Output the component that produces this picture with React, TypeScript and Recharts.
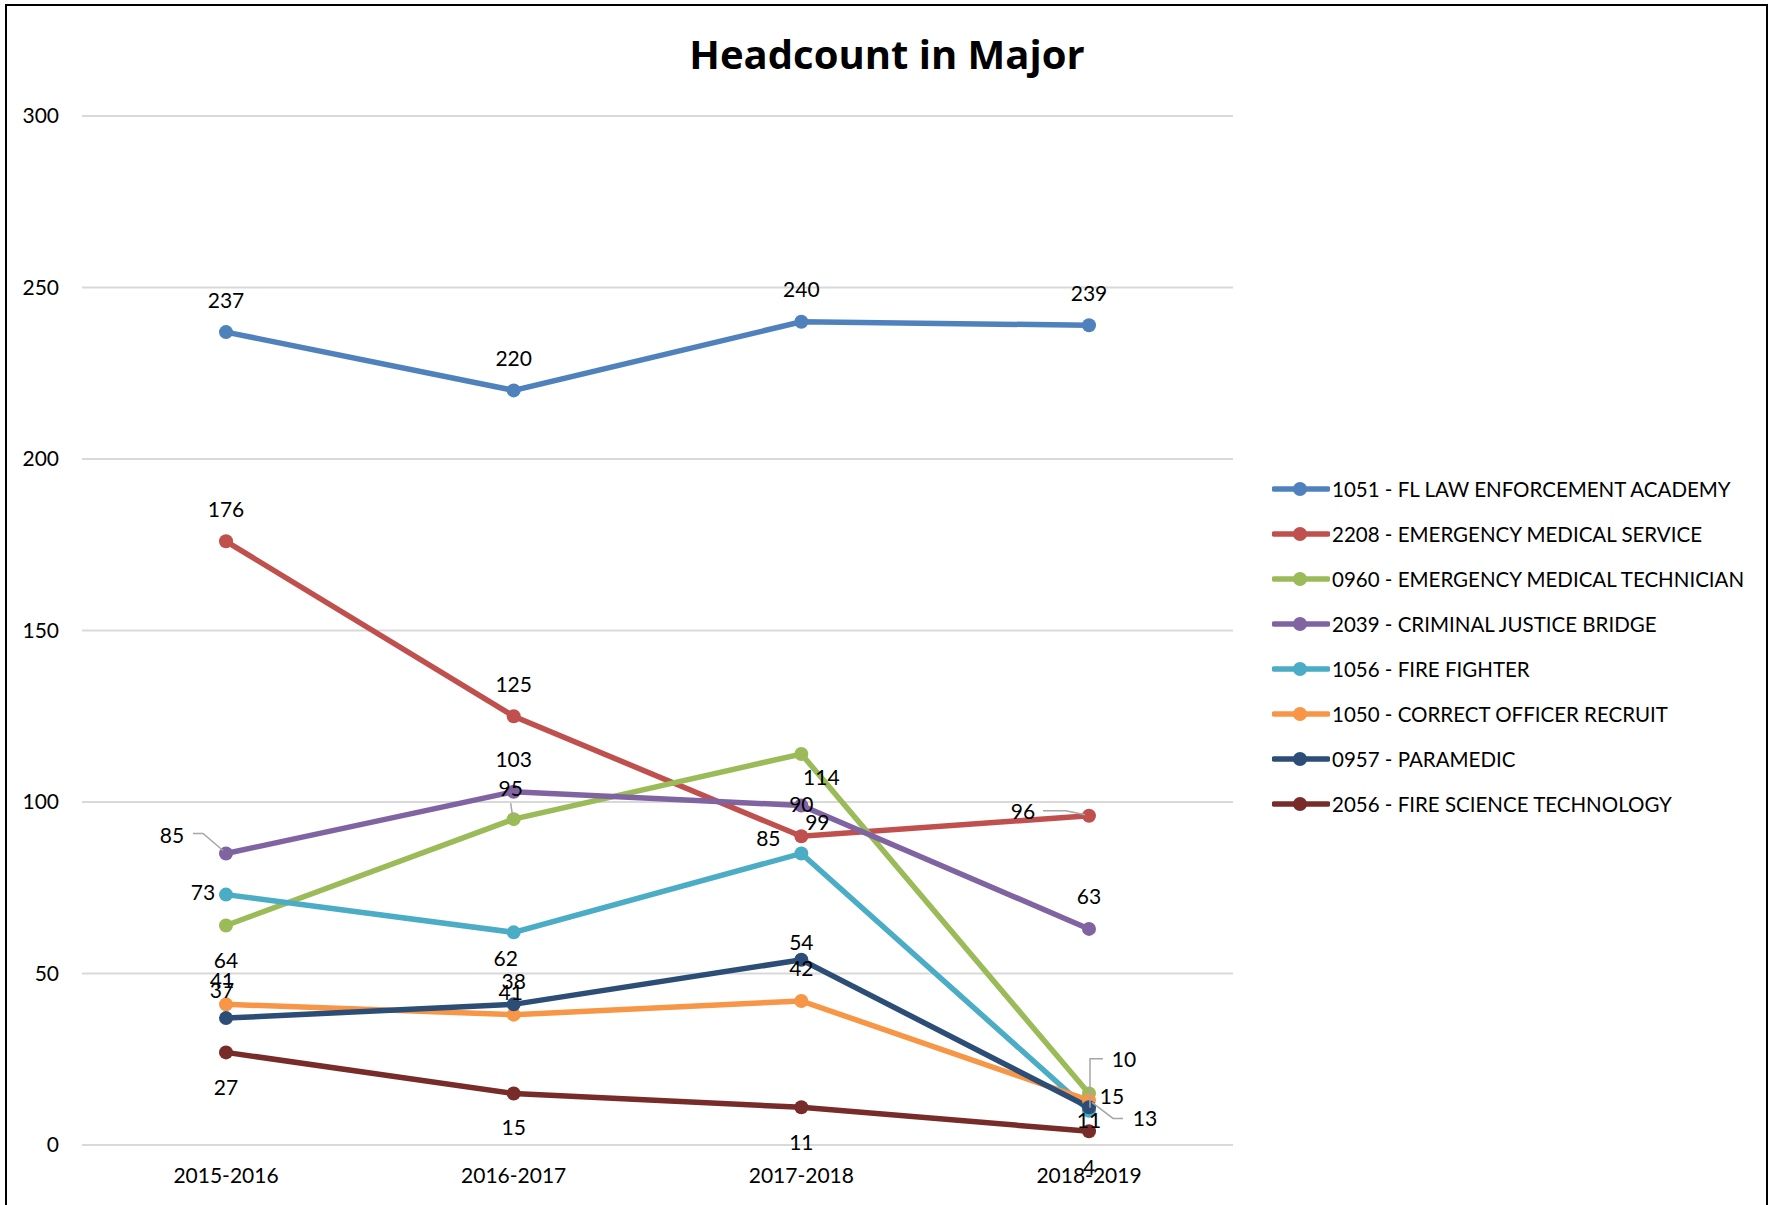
import { LineChart, Line, XAxis, YAxis, CartesianGrid, Legend, LabelList } from "recharts";

const YEARS = ["2015-2016", "2016-2017", "2017-2018", "2018-2019"];

const LAW_ACADEMY = [237, 220, 240, 239];
const EMS = [176, 125, 90, 96];
const EMT = [64, 95, 114, 15];
const CJ_BRIDGE = [85, 103, 99, 63];
const FIRE_FIGHTER = [73, 62, 85, 10];
const CORRECT_OFFICER = [41, 38, 42, 13];
const PARAMEDIC = [37, 41, 54, 11];
const FIRE_SCIENCE = [27, 15, 11, 4];

const Y_TICKS = [0, 50, 100, 150, 200, 250, 300];

const FONT = "Lato, 'Open Sans', sans-serif";

const SERIES = [
  { key: "s1051", name: "1051 - FL LAW ENFORCEMENT ACADEMY", color: "#4F81BD", values: LAW_ACADEMY },
  { key: "s2208", name: "2208 - EMERGENCY MEDICAL SERVICE", color: "#C0504D", values: EMS },
  { key: "s0960", name: "0960 - EMERGENCY MEDICAL TECHNICIAN", color: "#9BBB59", values: EMT },
  { key: "s2039", name: "2039 - CRIMINAL JUSTICE BRIDGE", color: "#8064A2", values: CJ_BRIDGE },
  { key: "s1056", name: "1056 - FIRE FIGHTER", color: "#4BACC6", values: FIRE_FIGHTER },
  { key: "s1050", name: "1050 - CORRECT OFFICER RECRUIT", color: "#F79646", values: CORRECT_OFFICER },
  { key: "s0957", name: "0957 - PARAMEDIC", color: "#2C4D75", values: PARAMEDIC },
  { key: "s2056", name: "2056 - FIRE SCIENCE TECHNOLOGY", color: "#772C2A", values: FIRE_SCIENCE },
];

// label offsets (text centre relative to the point), mimicking Excel's placement
const LABEL_OFFSETS: Record<string, number[][]> = {
  s1051: [[0, -32], [0, -32], [0, -32], [0, -32]],
  s2208: [[0, -32], [0, -32], [0, -32], [-66, -4]],
  s0960: [[0, 35], [-3, -31], [20, 24], [23, 3]],
  s2039: [[-54, -18], [0, -32], [16, 17], [0, -32]],
  s1056: [[-23, -2], [-8, 26], [-33, -15], [35, -51]],
  s1050: [[-4, -24], [0, -33], [0, -32], [56, 18]],
  s0957: [[-4, -28], [-3, -12], [0, -17], [0, 13]],
  s2056: [[0, 35], [0, 34], [0, 35], [0, 36]],
};

// leader lines, relative to the point
const LEADERS: Record<string, Record<number, number[][]>> = {
  s2039: { 0: [[-33, -20], [-23, -20], [-3, -3]] },
  s0960: { 1: [[-3, -16], [-1, -3]] },
  s2208: { 3: [[-46, -5], [-23, -5], [-4, -1]] },
  s1056: { 3: [[14, -52], [1, -52], [1, -3]] },
  s1050: { 3: [[34, 18], [24, 18], [3, 2]] },
};

const data = YEARS.map((year, i) => {
  const row: Record<string, string | number> = { year };
  SERIES.forEach((s) => {
    row[s.key] = s.values[i];
  });
  return row;
});

function makeLabel(seriesKey: string) {
  // eslint-disable-next-line @typescript-eslint/no-explicit-any
  return (props: any) => {
    const x = props.x ?? props.viewBox?.x;
    const y = props.y ?? props.viewBox?.y;
    const index = props.index;
    if (x == null || y == null) return null;
    const off = LABEL_OFFSETS[seriesKey][index] || [0, -32];
    const leader = LEADERS[seriesKey]?.[index];
    return (
      <g>
        {leader && (
          <polyline
            points={leader.map(([lx, ly]) => `${x + lx},${y + ly}`).join(" ")}
            fill="none"
            stroke="#a6a6a6"
            strokeWidth={1.5}
          />
        )}
        <text
          x={x + off[0]}
          y={y + off[1] + 7.5}
          textAnchor="middle"
          fontFamily={FONT}
          fontSize={21}
          fill="#000"
        >
          {props.value}
        </text>
      </g>
    );
  };
}

function LegendBox() {
  return (
    <div style={{ fontFamily: FONT, fontSize: 20.5, color: "#000" }}>
      {SERIES.map((s) => (
        <div key={s.key} style={{ height: 45, display: "flex", alignItems: "center", whiteSpace: "nowrap" }}>
          <svg width={58} height={16} style={{ marginRight: 2 }}>
            <line x1={2} y1={8} x2={56} y2={8} stroke={s.color} strokeWidth={5.5} strokeLinecap="round" />
            <circle cx={28} cy={8} r={7} fill={s.color} />
          </svg>
          <span>{s.name}</span>
        </div>
      ))}
    </div>
  );
}

export default function App() {
  return (
    <div style={{ position: "absolute", left: 0, top: 0, width: 1769, height: 1205, background: "#fff", overflow: "hidden" }}>
      <div
        style={{
          position: "absolute",
          left: 5,
          top: 4,
          width: 1759,
          height: 1220,
          border: "2px solid #000",
          pointerEvents: "none",
        }}
      />
      <div
        style={{
          position: "absolute",
          left: 0,
          top: 34,
          width: 1774,
          textAlign: "center",
          fontFamily: "'Open Sans', Lato, sans-serif",
          fontWeight: 700,
          fontSize: 40,
          lineHeight: "40px",
          color: "#000",
        }}
      >
        Headcount in Major
      </div>
      <LineChart
        width={1769}
        height={1205}
        data={data}
        margin={{ top: 116, right: 536, bottom: 0, left: 0 }}
      >
        <CartesianGrid vertical={false} stroke="#d9d9d9" strokeWidth={2} />
        <XAxis
          dataKey="year"
          height={60}
          padding={{ left: 144, right: 144 }}
          axisLine={{ stroke: "#d9d9d9", strokeWidth: 2 }}
          tickLine={false}
          tickMargin={17}
          tick={{ fontFamily: FONT, fontSize: 21, fill: "#000" }}
          interval={0}
        />
        <YAxis
          width={82}
          domain={[0, 300]}
          ticks={Y_TICKS}
          axisLine={false}
          tickLine={false}
          tickMargin={17}
          tick={{ fontFamily: FONT, fontSize: 21, fill: "#000" }}
        />
        <Legend
          layout="vertical"
          align="center"
          verticalAlign="middle"
          wrapperStyle={{ position: "absolute", left: 1272, top: 466, width: 490 }}
          content={() => <LegendBox />}
        />
        {SERIES.map((s) => (
          <Line
            key={s.key}
            dataKey={s.key}
            name={s.name}
            type="linear"
            stroke={s.color}
            strokeWidth={5.5}
            dot={{ r: 7, fill: s.color, stroke: s.color, strokeWidth: 0 }}
            activeDot={false}
            isAnimationActive={false}
          >
            <LabelList dataKey={s.key} content={makeLabel(s.key)} />
          </Line>
        ))}
      </LineChart>
    </div>
  );
}
